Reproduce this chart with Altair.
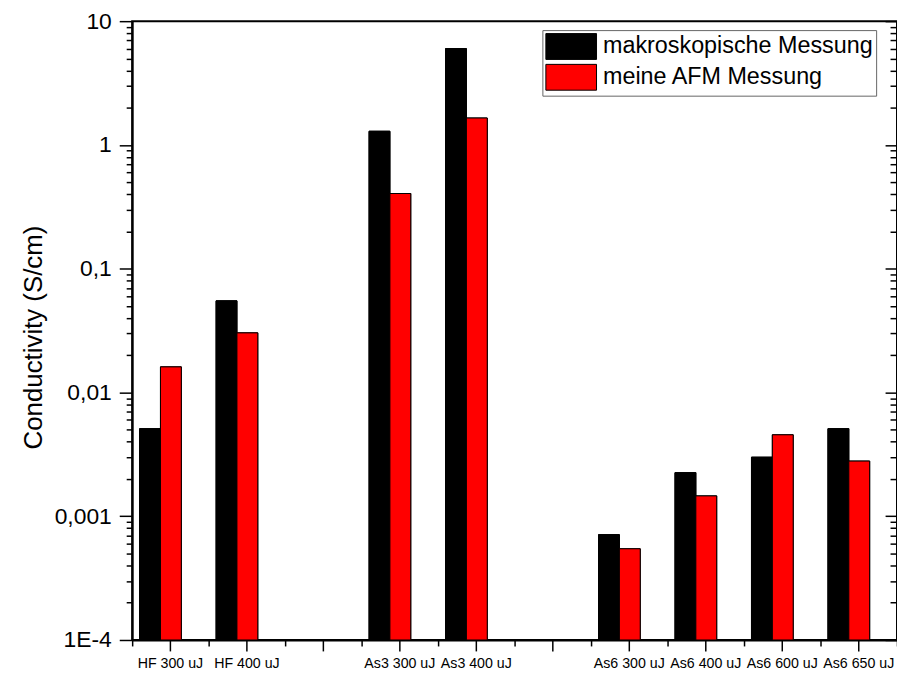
import altair as alt
import pandas as pd

# ---- data ----
categories = ["HF 300 uJ", "HF 400 uJ", " ", "As3 300 uJ", "As3 400 uJ", "  ",
              "As6 300 uJ", "As6 400 uJ", "As6 600 uJ", "As6 650 uJ"]
series_names = ["makroskopische Messung", "meine AFM Messung"]
makro_values = [0.0051, 0.055, None, 1.29, 6.0, None, 0.00071, 0.00225, 0.0030, 0.0051]
afm_values = [0.0161, 0.0303, None, 0.405, 1.65, None, 0.000546, 0.00146, 0.00455, 0.00279]
series_colors = ["#000000", "#ff0000"]

y_domain = [0.0001, 10]
y_major_ticks = [10, 1, 0.1, 0.01, 0.001, 0.0001]
y_major_labels = ["10", "1", "0,1", "0,01", "0,001", "1E-4"]
y_minor_multipliers = [2, 3, 4, 5, 6, 7, 8, 9]
y_decades = [-4, -3, -2, -1, 0]

rows = []
for cat, m, a in zip(categories, makro_values, afm_values):
    if m is not None:
        rows.append({"category": cat, "series": series_names[0], "value": m})
    if a is not None:
        rows.append({"category": cat, "series": series_names[1], "value": a})
df = pd.DataFrame(rows)

y_ticks = sorted(y_major_ticks + [round(mm * 10.0 ** k, 8) for k in y_decades for mm in y_minor_multipliers])

label_expr = ""
for v, lab in zip(y_major_ticks, y_major_labels):
    label_expr += f"datum.value == {v} ? '{lab}' : "
label_expr += "''"
major_test = "indexof([" + ",".join(str(v) for v in y_major_ticks) + "], datum.value) >= 0"

FONT = "Liberation Sans"

x_scale = alt.Scale(domain=categories, paddingInner=0, paddingOuter=0)
xoff_scale = alt.Scale(domain=series_names, paddingInner=0, paddingOuter=0.8333, align=0.214)
y_scale = alt.Scale(type="log", domain=y_domain, nice=False)
color = alt.Color(
    "series:N",
    scale=alt.Scale(domain=series_names, range=series_colors),
    legend=alt.Legend(
        title=None, orient="none", legendX=413, legendY=9,
        symbolType="M-1,-1L2.923,-1L2.923,1L-1,1Z", symbolSize=676,
        symbolStrokeColor="black", symbolStrokeWidth=1, symbolOpacity=1,
        labelFont=FONT, labelFontSize=23.5, labelColor="black", labelOffset=31,
        labelLimit=400, padding=3, rowPadding=0,
        strokeColor="#666666", fillColor="white",
    ),
)

x_axis_main = alt.Axis(
    orient="bottom", title=None, labelAngle=0, labelFont=FONT, labelFontSize=14.3,
    labelColor="black", tickSize=11, tickWidth=1.5, tickColor="black",
    domainColor="black", domainWidth=2, labelPadding=6, labelOverlap=False,
    labelBound=False, labelFlush=False,
)
x_axis_minor = alt.Axis(
    orient="bottom", title=None, labels=False, domain=False, tickBand="extent",
    tickSize=6, tickWidth=1.5, tickColor="black",
)
y_axis_left = alt.Axis(
    orient="left", values=y_ticks, labelExpr=label_expr, title="Conductivity (S/cm)",
    grid=False, tickSize={"condition": {"test": major_test, "value": 13}, "value": 6},
    tickWidth=1.5, tickColor="black", domainColor="black", domainWidth=2,
    labelFont=FONT, labelFontSize=23, labelColor="black", labelPadding=8,
    labelOverlap=False, labelBound=False,
    titleFont=FONT, titleFontSize=26, titleFontWeight="normal", titleColor="black",
    titleX=-86, titleY=318,
)
y_axis_right = alt.Axis(
    orient="left", offset=-770, values=y_ticks, labels=False, title=None,
    domain=False, grid=False,
    tickSize={"condition": {"test": major_test, "value": 12}, "value": 7},
    tickWidth=1.5, tickColor="black",
)

base = alt.Chart(df).mark_bar(stroke="black", strokeWidth=1)

layer_main = base.encode(
    x=alt.X("category:N", scale=x_scale, sort=categories, axis=x_axis_main),
    xOffset=alt.XOffset("series:N", scale=xoff_scale, sort=series_names),
    y=alt.Y("value:Q", scale=y_scale, axis=y_axis_left),
    y2=alt.datum(y_domain[0]),
    color=color,
)
layer_frame = base.encode(
    x=alt.X("category:N", scale=x_scale, sort=categories, axis=x_axis_minor),
    xOffset=alt.XOffset("series:N", scale=xoff_scale, sort=series_names),
    y=alt.Y("value:Q", scale=y_scale, axis=y_axis_right),
    y2=alt.datum(y_domain[0]),
    color=color,
)

chart = (
    alt.layer(layer_main, layer_frame)
    .resolve_axis(x="independent", y="independent")
    .properties(
        width=770, height=623, autosize="none",
        padding={"left": 125, "top": 11, "right": 0, "bottom": 34},
        background="white",
    )
    .configure_view(stroke="black", strokeWidth=2)
)

chart.save("out.html", embed_options={"renderer": "svg", "actions": False})
